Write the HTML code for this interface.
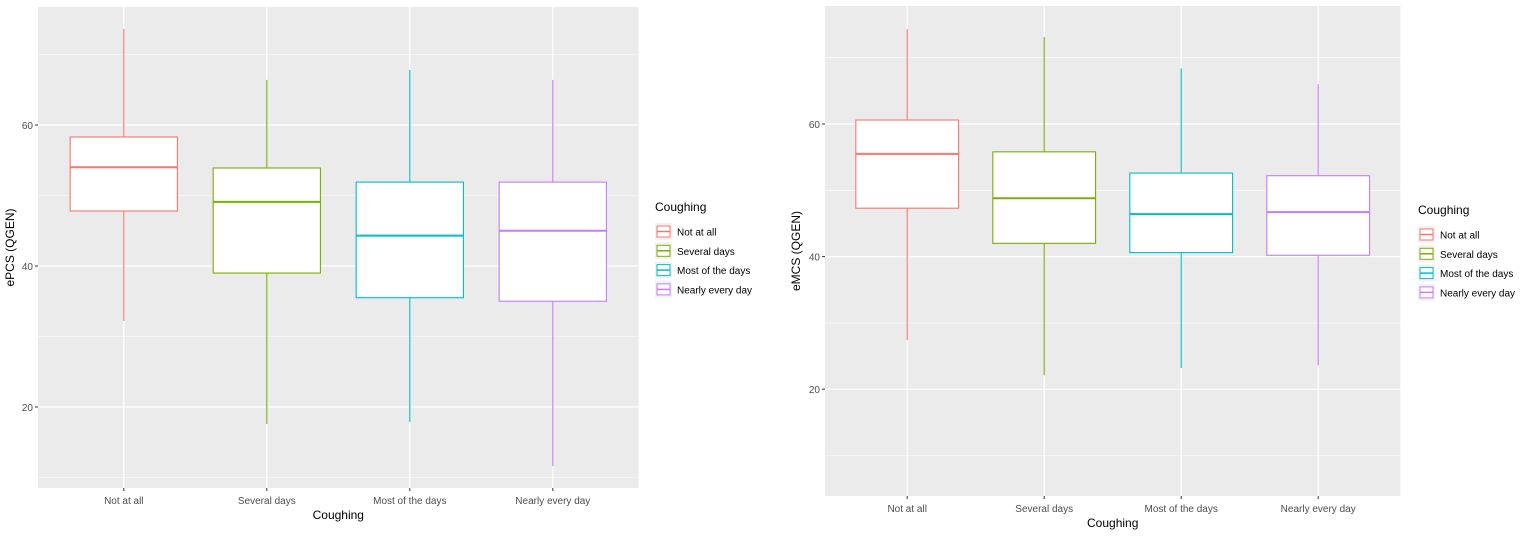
<!DOCTYPE html>
<html><head><meta charset="utf-8">
<style>
html,body{margin:0;padding:0;background:#fff;}
svg{display:block;font-family:"Liberation Sans",Arial,sans-serif;}
</style></head>
<body>
<svg id="chart" width="1524" height="536" viewBox="0 0 1524 536" xmlns="http://www.w3.org/2000/svg"></svg>
<script>
const categories = ["Not at all","Several days","Most of the days","Nearly every day"];
const colors = ["#F8766D","#7CAE00","#00BFC4","#C77CFF"];
// left panel ePCS: [min, q1, median, q3, max]
const pcsMin = [32.2, 17.6, 17.9, 11.6];
const pcsQ1 = [47.8, 39.0, 35.5, 35.0];
const pcsMed = [54.0, 49.1, 44.3, 45.0];
const pcsQ3 = [58.3, 53.9, 51.9, 51.9];
const pcsMax = [73.6, 66.4, 67.8, 66.4];
// right panel eMCS
const mcsMin = [27.4, 22.1, 23.2, 23.6];
const mcsQ1 = [47.3, 42.0, 40.6, 40.2];
const mcsMed = [55.5, 48.8, 46.4, 46.7];
const mcsQ3 = [60.6, 55.8, 52.6, 52.2];
const mcsMax = [74.3, 73.1, 68.4, 66.0];
const yTicks = [20, 40, 60];

const NS = "http://www.w3.org/2000/svg";
const svg = document.getElementById("chart");
function mk(tag, attrs, parent, text){
  const e = document.createElementNS(NS, tag);
  for (const k in attrs) e.setAttribute(k, attrs[k]);
  if (text !== undefined) e.textContent = text;
  (parent||svg).appendChild(e);
  return e;
}

function panel(p){
  const g = mk("g", {});
  
  
  const y = v => p.y0 - (v - p.v0) * p.ppu;
  const step = p.step;
  const x0 = p.x0, x1 = p.x0 + 4.2 * step;
  const x = i => x0 + step * (0.6 + i);
  const bg = mk("rect", {x:x0, y:p.top, width:x1-x0, height:p.bottom-p.top, fill:"#EBEBEB"}, g);
  
  
  for (let v = 10; v <= 80; v += 20){
    const yy = y(v);
    if (yy > p.top && yy < p.bottom) mk("line", {x1:x0, x2:x1, y1:yy, y2:yy, stroke:"#fff", "stroke-width":0.6}, g);
  }
  yTicks.forEach(v => {
    const yy = y(v);
    const gl = mk("line", {x1:x0, x2:x1, y1:yy, y2:yy, stroke:"#fff", "stroke-width":1.2}, g);
    
    
    mk("line", {x1:x0-3, x2:x0, y1:yy, y2:yy, stroke:"#333", "stroke-width":1}, g);
    const t = mk("text", {x:x0-5, y:yy+4, "text-anchor":"end", "font-size":10, fill:"#4D4D4D"}, g, String(v));
    
    
  });
  categories.forEach((c, i) => {
    const xx = x(i);
    mk("line", {x1:xx, x2:xx, y1:p.top, y2:p.bottom, stroke:"#fff", "stroke-width":1.2}, g);
    mk("line", {x1:xx, x2:xx, y1:p.bottom, y2:p.bottom+3, stroke:"#333", "stroke-width":1}, g);
    const t = mk("text", {x:xx, y:p.bottom+16, "text-anchor":"middle", "font-size":10, fill:"#4D4D4D"}, g, c);
    
    
  });
  categories.forEach((c, i) => {
    const xx = x(i), bw = step * 0.75, col = colors[i];
    const bg2 = mk("g", {}, g);
    
    
    mk("line", {x1:xx, x2:xx, y1:y(p.mx[i]), y2:y(p.q3[i]), stroke:col, "stroke-width":1.1}, bg2);
    mk("line", {x1:xx, x2:xx, y1:y(p.q1[i]), y2:y(p.mn[i]), stroke:col, "stroke-width":1.1}, bg2);
    mk("rect", {x:xx-bw/2, y:y(p.q3[i]), width:bw, height:y(p.q1[i])-y(p.q3[i]), fill:"#fff", stroke:col, "stroke-width":1.1}, bg2);
    mk("line", {x1:xx-bw/2, x2:xx+bw/2, y1:y(p.md[i]), y2:y(p.md[i]), stroke:col, "stroke-width":2}, bg2);
  });
  const yt = mk("text", {x:0, y:0, "text-anchor":"middle", "font-size":12, fill:"#000", transform:`translate(${p.ytx},${(p.top+p.bottom)/2}) rotate(-90)`}, g, p.ylab);
  
  
  const xt = mk("text", {x:(x0+x1)/2, y:p.bottom+31, "text-anchor":"middle", "font-size":12, fill:"#000"}, g, "Coughing");
  
  
  const lg = mk("g", {}, g);
  
  
  mk("text", {x:p.lx, y:p.ly, "font-size":12, fill:"#000"}, lg, "Coughing");
  categories.forEach((c, i) => {
    const yy = p.ly + 12 + i * 19.3;
    const e = mk("g", {}, lg);
    
    
    mk("rect", {x:p.lx, y:yy, width:17, height:17, fill:"#F2F2F2"}, e);
    mk("rect", {x:p.lx+2, y:yy+3, width:13, height:11, fill:"#fff", stroke:colors[i], "stroke-width":1}, e);
    mk("line", {x1:p.lx+2, x2:p.lx+15, y1:yy+8.5, y2:yy+8.5, stroke:colors[i], "stroke-width":1.5}, e);
    mk("text", {x:p.lx+22, y:yy+12.5, "font-size":10, fill:"#000"}, e, c);
  });
}

panel({name:"left-panel-epcs", x0:38, step:143, top:7, bottom:488, y0:125, v0:60, ppu:7.05,
  mn:pcsMin, q1:pcsQ1, md:pcsMed, q3:pcsQ3, mx:pcsMax, ylab:"ePCS (QGEN)", ytx:14, lx:655, ly:211});
panel({name:"right-panel-emcs", x0:825, step:137, top:6, bottom:496, y0:124, v0:60, ppu:6.63,
  mn:mcsMin, q1:mcsQ1, md:mcsMed, q3:mcsQ3, mx:mcsMax, ylab:"eMCS (QGEN)", ytx:800, lx:1418, ly:214});
</script>
</body></html>
